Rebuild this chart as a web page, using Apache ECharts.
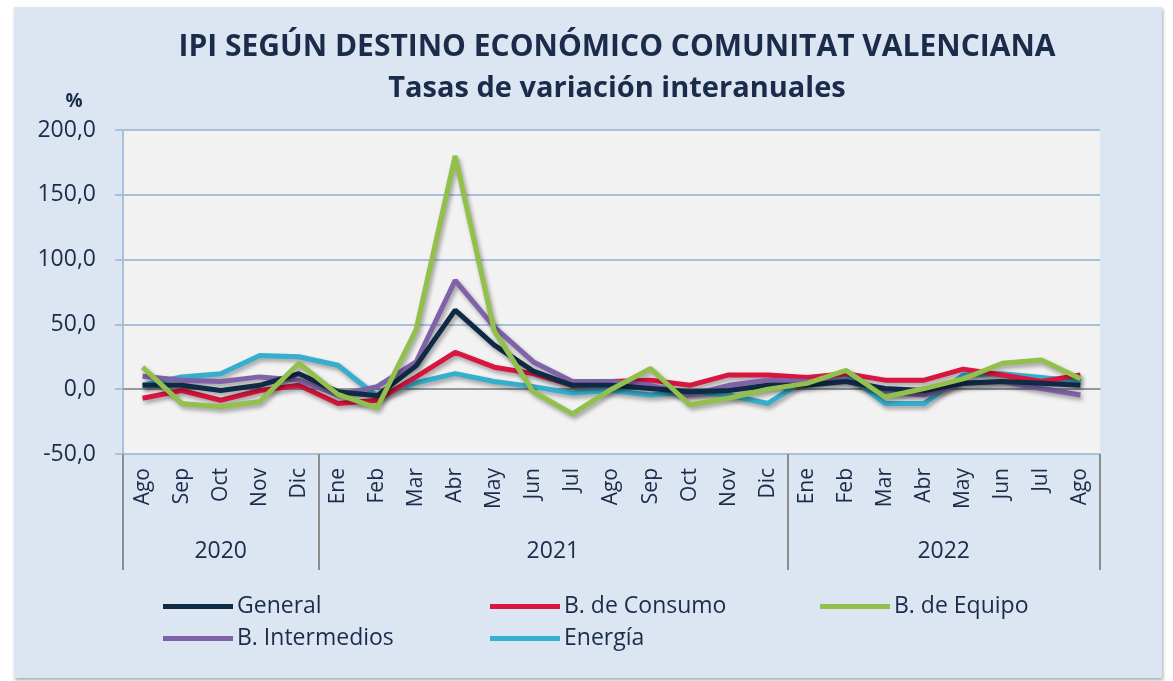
<!DOCTYPE html>
<html>
<head>
<meta charset="utf-8">
<script src="https://cdn.jsdelivr.net/npm/echarts@6/dist/echarts.min.js"></script>
<style>
  html, body { margin: 0; padding: 0; background: #fff; }
  #panel {
    position: absolute; left: 14px; top: 7px; width: 1148px; height: 671px;
    background: #dce6f2; box-shadow: 1px 2px 3px rgba(0,0,0,0.35);
  }
  #main { position: absolute; left: 0; top: 0; width: 1173px; height: 681px; }
</style>
</head>
<body>
<div id="panel"></div>
<div id="main"></div>
<script>
// meses de ago 2020 a ago 2022
var months = ['Ago', 'Sep', 'Oct', 'Nov', 'Dic',
  'Ene', 'Feb', 'Mar', 'Abr', 'May', 'Jun', 'Jul', 'Ago', 'Sep', 'Oct', 'Nov', 'Dic',
  'Ene', 'Feb', 'Mar', 'Abr', 'May', 'Jun', 'Jul', 'Ago'];
var years = ['2020', '2021', '2022'];
var yearMonths = [5, 12, 8];

var general = [3, 3, -1, 3, 12, -2, -5, 18, 61, 34, 14, 3, 3, 0.5, -2, -1, 3, 3, 6, 0.5, -1, 4.5, 6, 4.5, 3];
var consumo = [-7, -1, -8.5, -1, 3, -11, -8.5, 9.5, 28.5, 17, 12, 3, 6, 7, 3, 11, 11, 9, 12, 7, 7, 15.5, 11, 6, 11];
var equipo = [17, -11, -13.5, -9.5, 20, -4, -14.5, 46, 180, 45, -2, -19, 0, 16, -12, -7, 0, 4.5, 14.5, -6, 0.5, 8, 20, 22.5, 8];
var intermedios = [10, 7, 6, 9.5, 7, -4.5, 2, 21, 84, 48, 21, 6, 6, 3, -4.5, 3, 7, 6, 7, -2, -4.5, 4.5, 6, 0.5, -4.5];
var energia = [3, 9.5, 12, 26, 25, 18.5, -5.5, 5, 12, 6, 2, -3, -1, -4.5, -2, -4.5, -11, 8, 12, -11, -11, 11, 12, 9, 6];

var textColor = '#1b2c4a';
var font = 'Open Sans';

// eje de años: medio mes por punto, etiqueta en el centro de cada año
var yearData = [];
var yearLabelIdx = {};
var yearTickIdx = {0: true};
var pos = 0;
for (var i = 0; i < years.length; i++) {
  yearLabelIdx[pos + yearMonths[i]] = years[i];
  pos += yearMonths[i] * 2;
  yearTickIdx[pos] = true;
}
for (var j = 0; j <= pos; j++) {
  yearData.push(yearLabelIdx[j] || '');
}

var myChart = echarts.init(document.getElementById('main'));

function serie(name, data, color, z) {
  return {
    name: name,
    type: 'line',
    data: data,
    z: z,
    symbol: 'none',
    smooth: false,
    itemStyle: {color: color},
    lineStyle: {
      color: color,
      width: 5,
      shadowColor: 'rgba(0,0,0,0.35)',
      shadowBlur: 4,
      shadowOffsetX: 2,
      shadowOffsetY: 3
    }
  };
}

var legendBase = {
  orient: 'vertical',
  itemWidth: 70,
  itemHeight: 5,
  itemGap: 9,
  icon: 'rect',
  top: 590,
  textStyle: {fontFamily: font, fontSize: 23, color: textColor, padding: [0, 0, 0, -1]}
};

myChart.setOption({
  animation: false,
  title: [
    {
      text: 'IPI SEGÚN DESTINO ECONÓMICO COMUNITAT VALENCIANA',
      left: 612, top: 27, textAlign: 'center',
      textStyle: {fontFamily: font, fontSize: 30, fontWeight: 'bold', color: textColor}
    },
    {
      text: 'Tasas de variación interanuales',
      left: 612, top: 69, textAlign: 'center',
      textStyle: {fontFamily: font, fontSize: 29, fontWeight: 'bold', color: textColor}
    },
    {
      text: '%',
      left: 69, top: 87, textAlign: 'center',
      textStyle: {fontFamily: font, fontSize: 19, fontWeight: 'bold', color: textColor}
    }
  ],
  legend: [
    Object.assign({}, legendBase, {left: 158, data: ['General', 'B. Intermedios']}),
    Object.assign({}, legendBase, {left: 485, data: ['B. de Consumo', 'Energía']}),
    Object.assign({}, legendBase, {left: 815, data: ['B. de Equipo']})
  ],
  grid: {
    left: 123, right: 73, top: 130, bottom: 227,
    show: true, backgroundColor: '#f2f2f2', borderWidth: 0
  },
  xAxis: [
    {
      type: 'category',
      data: months,
      axisLine: {onZero: true, lineStyle: {color: '#8c8c8c', width: 1.5}},
      axisTick: {length: 5, lineStyle: {color: '#8c8c8c', width: 1.5}},
      axisLabel: {show: false},
      splitLine: {show: false}
    },
    {
      type: 'category',
      data: months,
      position: 'bottom',
      axisLine: {onZero: false, show: false},
      axisTick: {length: 66, lineStyle: {color: '#8c8c8c', width: 2}},
      axisLabel: {
        rotate: 90, margin: 14, interval: 0,
        fontFamily: font, fontSize: 21, color: textColor
      }
    },
    {
      type: 'category',
      data: yearData,
      boundaryGap: false,
      position: 'bottom',
      axisLine: {onZero: false, show: false},
      axisTick: {
        length: 116,
        interval: function (idx) { return !!yearTickIdx[idx]; },
        lineStyle: {color: '#8c8c8c', width: 2}
      },
      axisLabel: {
        margin: 86,
        interval: function (idx, val) { return val !== ''; },
        fontFamily: font, fontSize: 23, color: textColor
      }
    }
  ],
  yAxis: {
    type: 'value',
    min: -50,
    max: 200,
    interval: 50,
    axisLine: {show: true, lineStyle: {color: '#a9c0dd', width: 2}},
    axisTick: {show: true, length: 8, lineStyle: {color: '#a9c0dd', width: 2}},
    axisLabel: {
      margin: 27,
      fontFamily: font, fontSize: 23, color: textColor,
      formatter: function (v) { return v.toFixed(1).replace('.', ','); }
    },
    splitLine: {lineStyle: {color: '#a9c0dd', width: 2}}
  },
  series: [
    serie('General', general, '#0e2a44', 5),
    serie('B. de Consumo', consumo, '#d8163f', 3),
    serie('B. de Equipo', equipo, '#92c04c', 6),
    serie('B. Intermedios', intermedios, '#8062a8', 4),
    serie('Energía', energia, '#35afcd', 2)
  ]
});
</script>
</body>
</html>
